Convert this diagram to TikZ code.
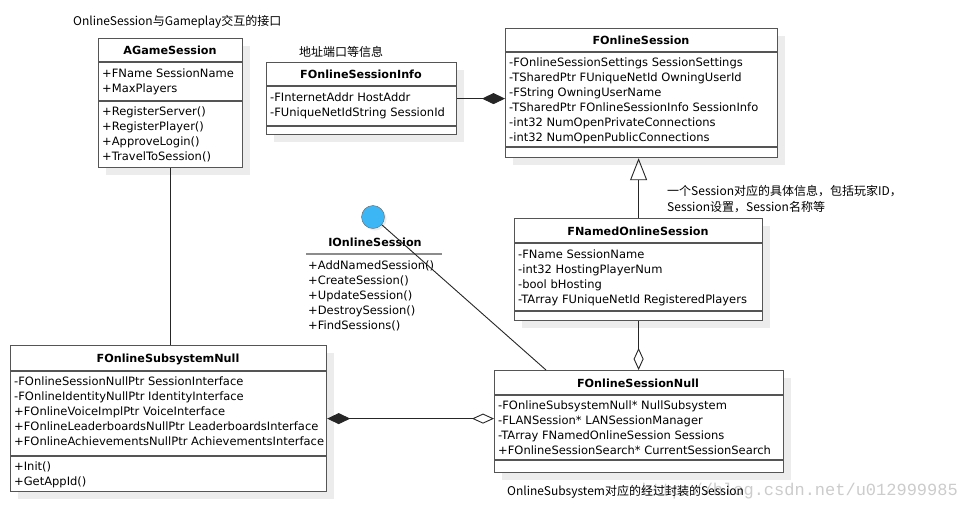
\documentclass[tikz,border=0pt]{standalone}
\usepackage{fontspec}
\setmainfont{DejaVu Sans}
\newfontfamily\cjk{Noto Sans CJK SC}
\newfontfamily\wmfont{Liberation Mono}
\usepackage{tikz}
\usetikzlibrary{arrows.meta, shapes, shadows, calc}
\definecolor{umlborder}{RGB}{85,85,85}
\definecolor{umlshadow}{RGB}{236,236,236}
\definecolor{ifaceblue}{RGB}{61,182,245}

\begin{document}
\begin{tikzpicture}[x=1pt, y=-1pt,
  every node/.style={font=\fontsize{11.5}{15}\selectfont},
  umlbox/.style={draw=umlborder, line width=1.2pt, fill=white, anchor=north west,
                 inner sep=0pt,
                 drop shadow={shadow xshift=7pt, shadow yshift=-7pt,
                              fill=umlshadow, opacity=1}},
  ttl/.style={font=\fontsize{11.2}{14}\selectfont\bfseries},
  mem/.style={anchor=north west, align=left, inner sep=0pt},
  sepl/.style={draw=umlborder, line width=1.2pt},
  note/.style={font=\fontsize{12}{16}\selectfont\cjk, anchor=west, align=left,
               inner sep=0pt},
  wmark/.style={font=\fontsize{17}{17}\selectfont\wmfont, text=black!20,
                anchor=east, inner sep=0pt},
  assoc/.style={line width=0.9pt, black!85},
  compo/.style={assoc, -{Diamond[length=23pt, width=11pt]}},
  aggr/.style={assoc, -{Diamond[open, length=22pt, width=10pt]}},
  inherit/.style={assoc, -{Triangle[open, length=22pt, width=17pt]}},
]

\path[use as bounding box, fill=white] (0,0) rectangle (968,512);

%% ── WATERMARK ─────────────────────────────────────────────────────────
\node[wmark] (wmark) at (958,491) {http://blog.csdn.net/u012999985};

%% ── AGameSession ──────────────────────────────────────────────────────
\node[note] (gpnote) at (73,22) {OnlineSession与Gameplay交互的接口};
\node[umlbox, minimum width=144pt, minimum height=129pt] (agame) at (98,38) {};
\draw[sepl] ($(agame.north west)+(0,24)$) -- ($(agame.north east)+(0,24)$);
\draw[sepl] ($(agame.north west)+(0,63)$) -- ($(agame.north east)+(0,63)$);
\node[ttl] (agame-t) at (170,50) {AGameSession};
\node[mem] (agame-a) at (102,68.5) {+FName SessionName\\+MaxPlayers};
\node[mem] (agame-m) at (102,106.5)
  {+RegisterServer()\\+RegisterPlayer()\\+ApproveLogin()\\+TravelToSession()};

%% ── FOnlineSessionInfo ────────────────────────────────────────────────
\node[note] (infonote) at (299,52) {地址端口等信息};
\node[umlbox, minimum width=190pt, minimum height=72pt] (sinfo) at (266,62) {};
\draw[sepl] ($(sinfo.north west)+(0,24)$) -- ($(sinfo.north east)+(0,24)$);
\draw[sepl] ($(sinfo.north west)+(0,64)$) -- ($(sinfo.north east)+(0,64)$);
\node[ttl] (sinfo-t) at (361,74) {FOnlineSessionInfo};
\node[mem] (sinfo-a) at (270,92.5)
  {-FInternetAddr HostAddr\\-FUniqueNetIdString SessionId};

%% ── FOnlineSession ────────────────────────────────────────────────────
\node[umlbox, minimum width=272pt, minimum height=129pt] (osess) at (505,28) {};
\draw[sepl] ($(osess.north west)+(0,24)$) -- ($(osess.north east)+(0,24)$);
\draw[sepl] ($(osess.north west)+(0,119)$) -- ($(osess.north east)+(0,119)$);
\node[ttl] (osess-t) at (641,40) {FOnlineSession};
\node[mem] (osess-a) at (509,57.5)
  {-FOnlineSessionSettings SessionSettings\\
   -TSharedPtr FUniqueNetId OwningUserId\\
   -FString OwningUserName\\
   -TSharedPtr FOnlineSessionInfo SessionInfo\\
   -int32 NumOpenPrivateConnections\\
   -int32 NumOpenPublicConnections};

%% ── FNamedOnlineSession ───────────────────────────────────────────────
\node[note] (namednote) at (667,199)
  {一个Session对应的具体信息，包括玩家ID，\\Session设置，Session名称等};
\node[umlbox, minimum width=248pt, minimum height=102pt] (nsess) at (514,218) {};
\draw[sepl] ($(nsess.north west)+(0,25)$) -- ($(nsess.north east)+(0,25)$);
\draw[sepl] ($(nsess.north west)+(0,93)$) -- ($(nsess.north east)+(0,93)$);
\node[ttl] (nsess-t) at (638,231) {FNamedOnlineSession};
\node[mem] (nsess-a) at (518,249.5)
  {-FName SessionName\\-int32 HostingPlayerNum\\-bool bHosting\\
   -TArray FUniqueNetId RegisteredPlayers};

%% ── IOnlineSession (interface) ────────────────────────────────────────
\node[circle, draw=black!60, fill=ifaceblue, minimum size=23pt, inner sep=0pt,
      drop shadow={shadow xshift=2pt, shadow yshift=-2pt, fill=umlshadow, opacity=1}]
  (iface) at (373,217) {};
\node[ttl] (iface-t) at (375,242) {IOnlineSession};
\draw[line width=2pt, black!45] (306,254) -- (442,254);
\node[mem] (iface-m) at (308,260.5)
  {+AddNamedSession()\\+CreateSession()\\+UpdateSession()\\
   +DestroySession()\\+FindSessions()};

%% ── FOnlineSubsystemNull ──────────────────────────────────────────────
\node[umlbox, minimum width=316pt, minimum height=146pt] (subnull) at (10,345) {};
\draw[sepl] ($(subnull.north west)+(0,26)$) -- ($(subnull.north east)+(0,26)$);
\draw[sepl] ($(subnull.north west)+(0,111)$) -- ($(subnull.north east)+(0,111)$);
\node[ttl] (subnull-t) at (168,359) {FOnlineSubsystemNull};
\node[mem] (subnull-a) at (14,376.5)
  {-FOnlineSessionNullPtr SessionInterface\\
   -FOnlineIdentityNullPtr IdentityInterface\\
   +FOnlineVoiceImplPtr VoiceInterface\\
   +FOnlineLeaderboardsNullPtr LeaderboardsInterface\\
   +FOnlineAchievementsNullPtr AchievementsInterface};
\node[mem] (subnull-m) at (14,461.5) {+Init()\\+GetAppId()};

%% ── FOnlineSessionNull ────────────────────────────────────────────────
\node[umlbox, minimum width=289pt, minimum height=102pt] (snull) at (494,370) {};
\draw[sepl] ($(snull.north west)+(0,25)$) -- ($(snull.north east)+(0,25)$);
\draw[sepl] ($(snull.north west)+(0,90)$) -- ($(snull.north east)+(0,90)$);
\node[ttl] (snull-t) at (638,383) {FOnlineSessionNull};
\node[mem] (snull-a) at (498,400.5)
  {-FOnlineSubsystemNull* NullSubsystem\\
   -FLANSession* LANSessionManager\\
   -TArray FNamedOnlineSession Sessions\\
   +FOnlineSessionSearch* CurrentSessionSearch};
\node[note] (nullnote) at (507,492) {OnlineSubsystem对应的经过封装的Session};
\coordinate (snull-top) at (546,370);

%% ═════════════════════════════════════════════════════════════════════
%% CONNECTORS
%% ═════════════════════════════════════════════════════════════════════

%% AGameSession -- FOnlineSubsystemNull
\draw[assoc] (agame.south) -- (agame.south |- subnull.north);

%% FOnlineSessionInfo part of FOnlineSession
\draw[compo] (sinfo.east) -- (sinfo.east -| osess.west);

%% FNamedOnlineSession inherits FOnlineSession
\draw[inherit] (nsess.north) -- (nsess.north |- osess.south);

%% FNamedOnlineSession held by FOnlineSessionNull
\draw[aggr] (nsess.south) -- (nsess.south |- snull.north);

%% IOnlineSession realised by FOnlineSessionNull
\draw[assoc] (iface) -- (snull-top);

%% FOnlineSubsystemNull <> FOnlineSessionNull
\draw[assoc, {Diamond[length=23pt, width=11pt]}-{Diamond[open, length=22pt, width=10pt]}]
  (subnull.east) -- (subnull.east -| snull.west);

\end{tikzpicture}
\end{document}
